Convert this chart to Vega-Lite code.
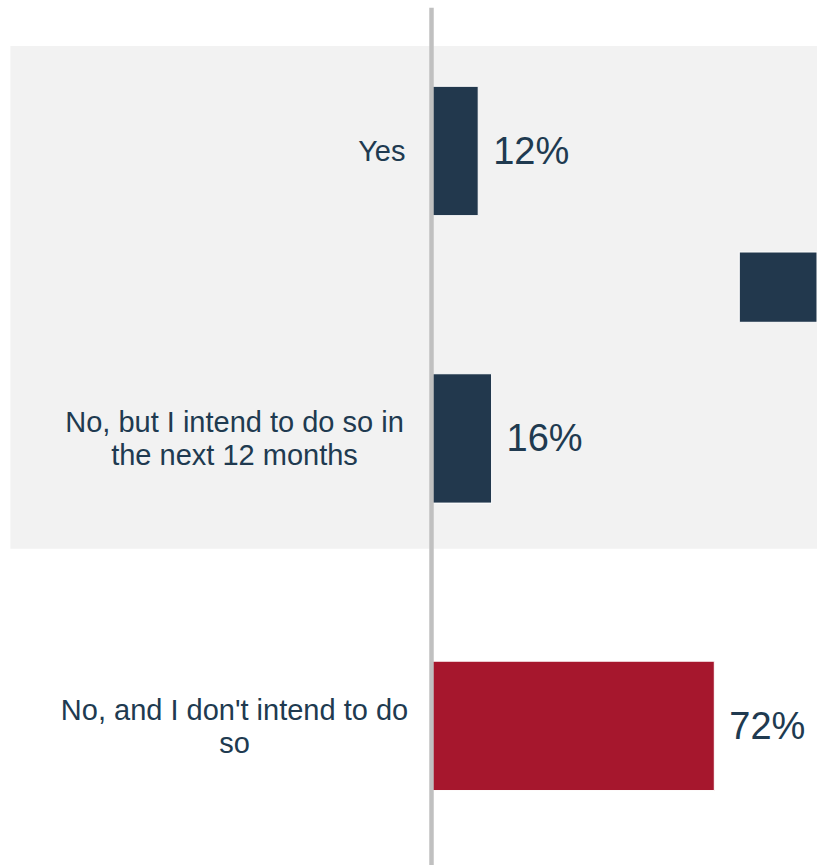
{
  "$schema": "https://vega.github.io/schema/vega-lite/v6.json",
  "autosize": {"type": "none"},
  "padding": {"left": 431, "top": 7.25, "right": 0, "bottom": 0},
  "width": 386,
  "height": 857.75,
  "background": "#ffffff",
  "config": {"view": {"stroke": null}, "font": "Liberation Sans"},
  "datasets": {
    "answers": [
      {"answer": "Yes", "pct": 12, "label": "12%"},
      {"answer": "No, but I intend to do so in the next 12 months", "pct": 15.4, "label": "16%"},
      {"answer": "No, and I don't intend to do so", "pct": 72, "label": "72%"}
    ],
    "shapes": [
      {"shape": "band", "x1": -106.9, "x2": 98.1, "y1": 0.135, "y2": 1.884},
      {"shape": "swatch", "x1": 78.35, "x2": 98.1, "y1": 0.8515, "y2": 1.096}
    ]
  },
  "resolve": {"scale": {"y": "independent"}},
  "layer": [
    {
      "data": {"name": "shapes"},
      "transform": [{"filter": "datum.shape === 'band'"}],
      "mark": {"type": "rect", "color": "#f2f2f2"},
      "encoding": {
        "x": {"field": "x1", "type": "quantitative", "scale": {"domain": [0, 98.1], "nice": false, "zero": true}, "axis": null},
        "x2": {"field": "x2"},
        "y": {"field": "y1", "type": "quantitative", "scale": {"domain": [0, 2.984], "reverse": true, "nice": false, "zero": true}, "axis": null},
        "y2": {"field": "y2"}
      }
    },
    {
      "data": {"name": "shapes"},
      "transform": [{"filter": "datum.shape === 'swatch'"}],
      "mark": {"type": "rect", "color": "#22384d", "stroke": "#ffffff", "strokeWidth": 1},
      "encoding": {
        "x": {"field": "x1", "type": "quantitative", "axis": null},
        "x2": {"field": "x2"},
        "y": {"field": "y1", "type": "quantitative", "scale": {"domain": [0, 2.984], "reverse": true, "nice": false, "zero": true}, "axis": null},
        "y2": {"field": "y2"}
      }
    },
    {
      "data": {"name": "answers"},
      "layer": [
        {
          "mark": {"type": "bar", "stroke": "#ffffff", "strokeWidth": 1},
          "encoding": {
            "x": {"field": "pct", "type": "quantitative", "axis": null},
            "y": {
              "field": "answer",
              "type": "nominal",
              "sort": null,
              "scale": {"paddingInner": 0.55, "paddingOuter": 0.267, "align": 0.515},
              "axis": {
                "title": null,
                "domain": true,
                "domainColor": "#c0c0c0",
                "domainWidth": 4.5,
                "ticks": false,
                "grid": false,
                "labelFont": "Liberation Sans",
                "labelFontSize": 29,
                "labelColor": "#203a50",
                "labelLineHeight": 33,
                "labelLimit": 0,
                "labelBaseline": "middle",
                "labelAlign": {"condition": {"test": "datum.value === 'Yes'", "value": "right"}, "value": "center"},
                "labelPadding": {"condition": {"test": "datum.value === 'Yes'", "value": 26}, "value": 197},
                "labelOffset": {"condition": {"test": "datum.value === 'Yes'", "value": 1}, "value": -15},
                "labelExpr": "datum.value === 'No, but I intend to do so in the next 12 months' ? ['No, but I intend to do so in', 'the next 12 months'] : (datum.value === \"No, and I don't intend to do so\" ? [\"No, and I don't intend to do\", 'so'] : datum.value)",
                "zindex": 1
              }
            },
            "color": {
              "field": "answer",
              "type": "nominal",
              "scale": {
                "domain": ["Yes", "No, but I intend to do so in the next 12 months", "No, and I don't intend to do so"],
                "range": ["#22384d", "#22384d", "#a6172d"]
              },
              "legend": null
            }
          }
        },
        {
          "mark": {"type": "text", "align": "left", "baseline": "middle", "dx": 15, "dy": 2, "fontSize": 38, "font": "Liberation Sans", "color": "#203a50"},
          "encoding": {
            "x": {"field": "pct", "type": "quantitative"},
            "y": {"field": "answer", "type": "nominal", "sort": null},
            "text": {"field": "label"}
          }
        }
      ]
    }
  ]
}
